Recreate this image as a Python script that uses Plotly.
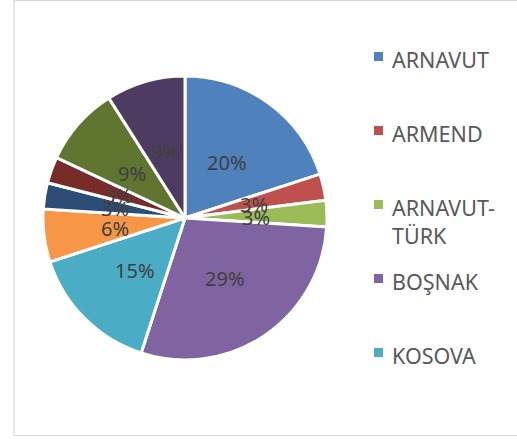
import math
import plotly.graph_objects as go

W, H = 517, 439

labels = ["ARNAVUT", "ARMEND", "ARNAVUT-TÜRK", "BOŞNAK", "KOSOVA",
          "DİĞER 6", "DİĞER 7", "DİĞER 8", "DİĞER 9", "DİĞER 10"]
values = [20, 3, 3, 29, 15, 6, 3, 3, 9, 9]
colors = ["#4F81BD", "#C0504D", "#9BBB59", "#8064A2", "#4BACC6",
          "#F79646", "#2C4D75", "#772C2A", "#5F7530", "#4D3B62"]
legend_labels = ["ARNAVUT", "ARMEND", "ARNAVUT-<br>TÜRK", "BOŞNAK", "KOSOVA"]

FONT = "Noto Sans, Liberation Sans, sans-serif"

# pie geometry (pixels)
cx, cy, r = 185, 218, 142
domain_x = [(cx - r) / W, (cx + r) / W]
domain_y = [1 - (cy + r) / H, 1 - (cy - r) / H]

fig = go.Figure()
fig.add_trace(go.Pie(
    labels=labels, values=values, sort=False, direction="clockwise", rotation=0,
    marker=dict(colors=colors, line=dict(color="white", width=3)),
    textinfo="none", hoverinfo="label+percent", showlegend=False,
    domain=dict(x=domain_x, y=domain_y),
))

annotations = []
total = sum(values)
cum = 0
for v in values:
    mid = (cum + v / 2) / total * 2 * math.pi
    cum += v
    lx = cx + 0.50 * r * math.sin(mid)
    ly = cy + 2 - 0.50 * r * math.cos(mid)
    annotations.append(dict(
        x=lx / W, y=1 - ly / H, xref="paper", yref="paper",
        text=f"{round(v / total * 100)}%", showarrow=False,
        font=dict(family=FONT, size=20, color="#404040"),
        xanchor="center", yanchor="middle"))

shapes = [dict(type="rect", xref="paper", yref="paper",
               x0=14 / W, x1=519 / W, y0=1 - 435.5 / H, y1=1 - 0.5 / H,
               line=dict(color="#D9D9D9", width=1.2), fillcolor="rgba(0,0,0,0)")]

leg_y = [56.5, 130.5, 204.5, 278.5, 352.5]
for i, (lab, yy) in enumerate(zip(legend_labels, leg_y)):
    shapes.append(dict(type="rect", xref="paper", yref="paper",
                       x0=374 / W, x1=383 / W, y0=1 - (yy + 4.5) / H, y1=1 - (yy - 4.5) / H,
                       line=dict(width=0), fillcolor=colors[i]))
    annotations.append(dict(
        x=390 / W, y=1 - (yy - 13.5) / H, xref="paper", yref="paper",
        text=lab, showarrow=False, align="left",
        font=dict(family=FONT, size=21.5, color="#595959"),
        xanchor="left", yanchor="top"))

fig.update_layout(
    width=W, height=H, margin=dict(l=0, r=0, t=0, b=0),
    paper_bgcolor="white", plot_bgcolor="white",
    shapes=shapes, annotations=annotations,
)

fig.write_html("out.html", config={"displayModeBar": False},
               post_script="document.body.style.margin='0px';document.body.style.padding='0px';")
